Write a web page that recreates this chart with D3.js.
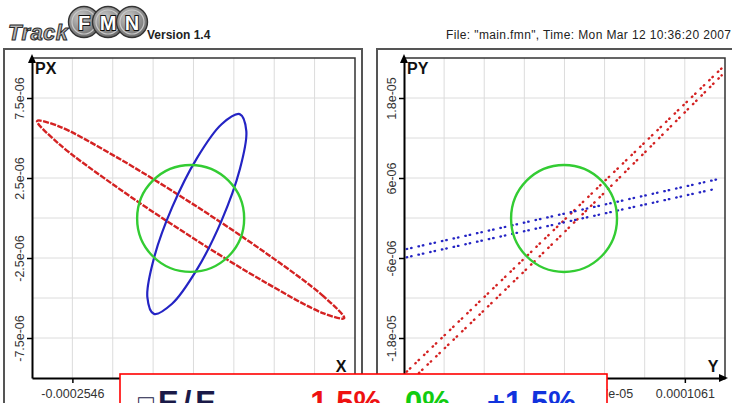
<!DOCTYPE html>
<html>
<head>
<meta charset="utf-8">
<script src="https://cdn.jsdelivr.net/npm/d3@7"></script>
<style>
  body { margin: 0; background: #fff; }
  svg { display: block; font-family: "Liberation Sans", Arial, sans-serif; }
</style>
</head>
<body>
<div id="chart"></div>
<script>
// ---- values ----
// left panel: X / PX
const pxDomainX = [-0.0003395, 0.0003395];
const pxDomainY = [-1e-05, 1e-05];
const pxTickValuesX = [-0.0002546, -8.487e-05, 8.487e-05, 0.0002546];
const pxTickLabelsX = ["-0.0002546", "-8.487e-05", "8.487e-05", "0.0002546"];
const pxTickValuesY = [-7.5e-06, -2.5e-06, 2.5e-06, 7.5e-06];
const pxTickLabelsY = ["-7.5e-06", "-2.5e-06", "2.5e-06", "7.5e-06"];

// right panel: Y / PY
const pyDomainX = [-0.0001415, 0.0001415];
const pyDomainY = [-2.4e-05, 2.4e-05];
const pyTickValuesX = [-0.0001061, -3.537e-05, 3.537e-05, 0.0001061];
const pyTickLabelsX = ["-0.0001061", "-3.537e-05", "3.537e-05", "0.0001061"];
const pyTickValuesY = [-1.8e-05, -6e-06, 6e-06, 1.8e-05];
const pyTickLabelsY = ["-1.8e-05", "-6e-06", "6e-06", "1.8e-05"];

// dE/E0 cases
const energyLabels = ["-1.5%", "0%", "+1.5%"];
const energyColors = ["#d42222", "#33cc33", "#2424c4"];
const energyTextColors = ["#ee1111", "#11cc11", "#1133dd"];

// X-PX ellipse contours, [x, px]
const xpxMinus = [
  [3.167e-4, -6.26e-6], [2.735e-4, -4.90e-6], [1.554e-4, -2.26e-6], [-0.06e-4, 0.96e-6],
  [-1.674e-4, 3.90e-6], [-2.855e-4, 5.76e-6], [-3.287e-4, 6.06e-6], [-2.855e-4, 4.70e-6],
  [-1.674e-4, 2.06e-6], [-0.06e-4, -1.16e-6], [1.554e-4, -4.10e-6], [2.735e-4, -5.96e-6]
];
const xpxPlus = [
  [1.11e-4, 5.44e-6], [0.971e-4, 6.49e-6], [0.59e-4, 5.86e-6], [0.07e-4, 3.73e-6],
  [-0.45e-4, 0.66e-6], [-0.831e-4, -2.51e-6], [-0.97e-4, -4.94e-6], [-0.831e-4, -5.99e-6],
  [-0.45e-4, -5.36e-6], [0.07e-4, -3.23e-6], [0.59e-4, -0.16e-6], [0.971e-4, 3.01e-6]
];
// nominal: centre x, centre px, radius x, radius px
const xpxNominal = [-6e-06, -3e-08, 1.125e-4, 3.34e-6];

// Y-PY: the off-energy ellipses are so thin they show as two dotted strands
const ypyMinusA = [[-1.391e-4, -2.305e-5], [0, -2.6e-7], [1.400e-4, 2.269e-5]];
const ypyMinusB = [[-1.36e-4, -2.45e-5], [0, -2.1e-6], [1.386e-4, 2.14e-5]];
const ypyPlusA = [[-1.391e-4, -4.65e-6], [0, 6.6e-7], [1.386e-4, 5.95e-6]];
const ypyPlusB = [[-1.391e-4, -5.89e-6], [0, -6.5e-7], [1.312e-4, 4.30e-6]];
const ypyNominal = [-4e-07, -7e-08, 4.67e-05, 8.02e-06];

const W = 732, H = 403;

const svg = d3.select("#chart").append("svg")
  .attr("width", W)
  .attr("height", H);

// ---- header ----
const logo = svg.append("g");
logo.append("text")
  .attr("x", 8).attr("y", 40)
  .text("Track")
  .attr("textLength", 60)
  .style("font-size", "22px").style("font-weight", "bold").style("font-style", "italic")
  .attr("fill", "#b4b4b4").attr("stroke", "#2a2a2a").attr("stroke-width", 1);

const grad = svg.append("defs").append("radialGradient")
  .attr("id", "ball").attr("cx", "40%").attr("cy", "35%").attr("r", "70%");
grad.append("stop").attr("offset", "0%").attr("stop-color", "#c8c8c8");
grad.append("stop").attr("offset", "100%").attr("stop-color", "#666");

const logoBalls = [["F", 84], ["M", 108], ["N", 132]];
logoBalls.forEach(([ch, cx]) => {
  logo.append("circle").attr("cx", cx).attr("cy", 22).attr("r", 15.5)
    .attr("fill", "url(#ball)").attr("stroke", "#333").attr("stroke-width", 1.4);
  logo.append("circle").attr("cx", cx).attr("cy", 22).attr("r", 12)
    .attr("fill", "none").attr("stroke", "#c8c8c8").attr("stroke-width", 1.2);
  logo.append("text").attr("x", cx).attr("y", 29.5)
    .attr("text-anchor", "middle")
    .text(ch)
    .style("font-size", "20px").style("font-weight", "bold")
    .attr("fill", "#fff").attr("stroke", "#111").attr("stroke-width", 1.8)
    .attr("paint-order", "stroke");
});

svg.append("text")
  .attr("x", 147).attr("y", 39)
  .text("Version 1.4")
  .style("font-size", "12px").style("font-weight", "bold")
  .attr("fill", "#222");

svg.append("text")
  .attr("x", 446).attr("y", 39)
  .text('File: "main.fmn", Time: Mon Mar 12 10:36:20 2007')
  .attr("textLength", 285)
  .style("font-size", "12px")
  .attr("fill", "#222");

// ---- panels ----
function drawPanel(cfg) {
  const g = svg.append("g");

  // outer panel frame
  g.append("rect")
    .attr("x", cfg.frame[0]).attr("y", cfg.frame[1])
    .attr("width", cfg.frame[2]).attr("height", cfg.frame[3])
    .attr("fill", "none").attr("stroke", "#555").attr("stroke-width", 2);

  const x = d3.scaleLinear().domain(cfg.domainX).range([cfg.left, cfg.right]);
  const y = d3.scaleLinear().domain(cfg.domainY).range([cfg.bottom, cfg.top]);

  // grid every half tick step
  const stepX = (cfg.ticksX[1] - cfg.ticksX[0]) / 2;
  const stepY = (cfg.ticksY[1] - cfg.ticksY[0]) / 2;
  const gridX = d3.range(1, 8).map(i => cfg.domainX[0] + i * stepX);
  const gridY = d3.range(1, 8).map(i => cfg.domainY[0] + i * stepY);

  g.append("g").selectAll("line").data(gridX).enter().append("line")
    .attr("x1", d => x(d)).attr("x2", d => x(d))
    .attr("y1", cfg.top).attr("y2", cfg.bottom)
    .attr("stroke", "#dcdcdc").attr("stroke-width", 1);
  g.append("g").selectAll("line").data(gridY).enter().append("line")
    .attr("y1", d => y(d)).attr("y2", d => y(d))
    .attr("x1", cfg.left).attr("x2", cfg.right)
    .attr("stroke", "#dcdcdc").attr("stroke-width", 1);

  // inner frame, top and right
  g.append("path")
    .attr("d", `M${cfg.left},${cfg.top}H${cfg.right}V${cfg.bottom}`)
    .attr("fill", "none").attr("stroke", "#333").attr("stroke-width", 1.5);

  const clipId = "clip" + cfg.name;
  g.append("clipPath").attr("id", clipId).append("rect")
    .attr("x", cfg.left).attr("y", cfg.top)
    .attr("width", cfg.right - cfg.left).attr("height", cfg.bottom - cfg.top);
  const plot = g.append("g").attr("clip-path", `url(#${clipId})`);

  cfg.draw(plot, x, y);

  // axes
  const xAxis = g.append("g")
    .attr("transform", `translate(0,${cfg.bottom})`)
    .call(d3.axisBottom(x).tickValues(cfg.ticksX)
      .tickFormat((d, i) => cfg.labelsX[i]).tickSize(5).tickSizeOuter(0));
  xAxis.selectAll("text")
    .attr("y", 11)
    .style("font-size", "12.5px").style("font-family", "'Liberation Sans', Arial, sans-serif")
    .attr("fill", "#333");

  const yAxis = g.append("g")
    .attr("transform", `translate(${cfg.left},0)`)
    .call(d3.axisLeft(y).tickValues(cfg.ticksY)
      .tickFormat((d, i) => cfg.labelsY[i]).tickSize(5).tickSizeOuter(0));
  yAxis.selectAll("text")
    .attr("x", 0).attr("dy", null).attr("y", 0)
    .attr("text-anchor", "middle")
    .attr("transform", "translate(-8,0) rotate(-90)")
    .style("font-size", "12.5px").style("font-family", "'Liberation Sans', Arial, sans-serif")
    .attr("fill", "#333");

  [xAxis, yAxis].forEach(a => {
    a.select(".domain").attr("stroke", "#000").attr("stroke-width", 2);
    a.selectAll(".tick line").attr("stroke", "#000").attr("stroke-width", 1.5);
  });

  // arrow heads
  g.append("path")
    .attr("d", `M${cfg.left},${cfg.top - 4}l-4,9h8z`)
    .attr("fill", "#000");
  g.append("path")
    .attr("d", `M${cfg.right + 3},${cfg.bottom}l-9,-4v8z`)
    .attr("fill", "#000");

  // axis names
  g.append("text")
    .attr("x", cfg.left + 3).attr("y", cfg.top + 16)
    .text(cfg.nameY)
    .style("font-size", "16px").style("font-weight", "bold").attr("fill", "#111");
  g.append("text")
    .attr("x", cfg.right - cfg.nameOff).attr("y", cfg.bottom - 6)
    .attr("text-anchor", "middle")
    .text(cfg.nameX)
    .style("font-size", "16px").style("font-weight", "bold").attr("fill", "#111");
}

const closed = (x, y) => d3.line().x(d => x(d[0])).y(d => y(d[1])).curve(d3.curveCatmullRomClosed);
const strand = (x, y) => d3.line().x(d => x(d[0])).y(d => y(d[1])).curve(d3.curveMonotoneX);

function nominalEllipse(plot, x, y, p) {
  plot.append("ellipse")
    .attr("cx", x(p[0])).attr("cy", y(p[1]))
    .attr("rx", x(p[0] + p[2]) - x(p[0]))
    .attr("ry", y(p[1]) - y(p[1] + p[3]))
    .attr("fill", "none").attr("stroke", energyColors[1]).attr("stroke-width", 2.4);
}

drawPanel({
  name: "px",
  frame: [4, 49, 358, 400],
  left: 32, right: 355, top: 58, bottom: 378,
  domainX: pxDomainX, domainY: pxDomainY,
  ticksX: pxTickValuesX, labelsX: pxTickLabelsX,
  ticksY: pxTickValuesY, labelsY: pxTickLabelsY,
  nameX: "X", nameY: "PX", nameOff: 14,
  draw: (plot, x, y) => {
    plot.append("path").datum(xpxMinus)
      .attr("d", closed(x, y))
      .attr("fill", "none").attr("stroke", energyColors[0])
      .attr("stroke-width", 2.4).attr("stroke-dasharray", "6,1.4");
    plot.append("path").datum(xpxPlus)
      .attr("d", closed(x, y))
      .attr("fill", "none").attr("stroke", energyColors[2])
      .attr("stroke-width", 2.2);
    nominalEllipse(plot, x, y, xpxNominal);
  }
});

drawPanel({
  name: "py",
  frame: [377, 49, 400, 400],
  left: 404, right: 725, top: 58, bottom: 378,
  domainX: pyDomainX, domainY: pyDomainY,
  ticksX: pyTickValuesX, labelsX: pyTickLabelsX,
  ticksY: pyTickValuesY, labelsY: pyTickLabelsY,
  nameX: "Y", nameY: "PY", nameOff: 12,
  draw: (plot, x, y) => {
    [ypyMinusA, ypyMinusB].forEach(s => {
      plot.append("path").datum(s)
        .attr("d", strand(x, y))
        .attr("fill", "none").attr("stroke", energyColors[0])
        .attr("stroke-width", 2.4).attr("stroke-linecap", "round")
        .attr("stroke-dasharray", "0.5,4,0.5,7");
    });
    [ypyPlusA, ypyPlusB].forEach(s => {
      plot.append("path").datum(s)
        .attr("d", strand(x, y))
        .attr("fill", "none").attr("stroke", energyColors[2])
        .attr("stroke-width", 2.3).attr("stroke-linecap", "round")
        .attr("stroke-dasharray", "0.5,4,0.5,7");
    });
    nominalEllipse(plot, x, y, ypyNominal);
  }
});

// ---- energy legend box (runs off the bottom edge) ----
const legend = svg.append("g");
legend.append("rect")
  .attr("x", 120).attr("y", 374)
  .attr("width", 487).attr("height", 60)
  .attr("fill", "#fff").attr("stroke", "#ff0000").attr("stroke-width", 1.6);

const lt = legend.append("text")
  .attr("y", 413)
  .style("font-weight", "bold").style("font-size", "31px");
lt.append("tspan").attr("x", 138).attr("dy", 0)
  .style("font-size", "26px").style("font-weight", "normal")
  .attr("fill", "#1a1a48").text("□");
lt.append("tspan").attr("x", 158).attr("dy", 0)
  .attr("textLength", 58).attr("fill", "#1a1a48").text("E/E");
lt.append("tspan").attr("dy", 9).style("font-size", "20px")
  .attr("fill", "#1a1a48").text("0");
const legendX = [300, 405, 487];
energyLabels.forEach((lab, i) => {
  lt.append("tspan").attr("x", legendX[i]).attr("dy", i === 0 ? -9 : 0)
    .attr("fill", energyTextColors[i])
    .text(lab + (i < 2 ? "," : ""));
});
</script>
</body>
</html>
